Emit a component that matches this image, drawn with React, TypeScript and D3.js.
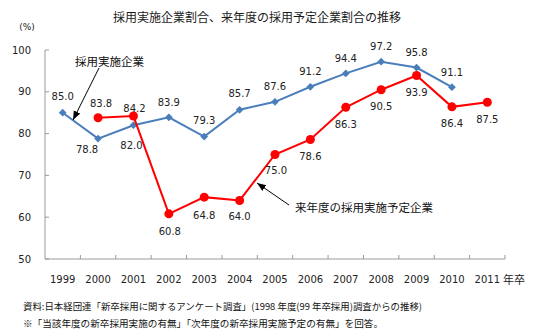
import React from 'react';
import * as d3 from 'd3';

const years = ['1999', '2000', '2001', '2002', '2003', '2004', '2005', '2006', '2007', '2008', '2009', '2010', '2011'];
// 採用実施企業 (1999–2010)
const hiringYears = ['1999', '2000', '2001', '2002', '2003', '2004', '2005', '2006', '2007', '2008', '2009', '2010'];
const hiringRate = [85.0, 78.8, 82.0, 83.9, 79.3, 85.7, 87.6, 91.2, 94.4, 97.2, 95.8, 91.1];
// 来年度の採用実施予定企業 (2000–2011)
const plannedYears = ['2000', '2001', '2002', '2003', '2004', '2005', '2006', '2007', '2008', '2009', '2010', '2011'];
const plannedRate = [83.8, 84.2, 60.8, 64.8, 64.0, 75.0, 78.6, 86.3, 90.5, 93.9, 86.4, 87.5];
const yTicks = [50, 60, 70, 80, 90, 100];

const title = '採用実施企業割合、来年度の採用予定企業割合の推移';
const hiringName = '採用実施企業';
const plannedName = '来年度の採用実施予定企業';
const unitLabel = '(%)';
const xSuffix = '年卒';
const footer1 = '資料:日本経団連「新卒採用に関するアンケート調査」(1998 年度(99 年卒採用)調査からの推移)';
const footer2 = '※「当該年度の新卒採用実施の有無」「次年度の新卒採用実施予定の有無」を回答。';

// label offsets (dx, dy from point, to text centre)
const hiringLabelOffset: [number, number][] = [
  [0, -16], [-11, 11], [-2, 20], [0, -15], [0, -16], [0, -16],
  [0, -15], [0, -15], [0, -15], [0, -15], [0, -15], [0, -15],
];
const plannedLabelOffset: [number, number][] = [
  [3, -14], [1, -8], [1, 18], [0, 18], [0, 16], [1, 16],
  [0, 17], [0, 17], [0, 17], [0, 17], [0, 17], [0, 17],
];

const W = 540;
const H = 335;
const BLUE = '#4A7EBB';
const RED = '#FF0000';
const AXIS = '#9A9A9A';
const JP = '"Noto Sans CJK JP", "Noto Sans", sans-serif';
const NUM = '"DejaVu Sans", sans-serif';

export default function App() {
  const x = d3.scaleBand<string>().domain(years).range([45, 505]).paddingInner(0).paddingOuter(0);
  const y = d3.scaleLinear().domain([50, 100]).range([259, 50]);
  const cx = (yr: string) => (x(yr) as number) + x.bandwidth() / 2;

  const hiring = hiringYears.map((yr, i) => ({ yr, v: hiringRate[i] }));
  const planned = plannedYears.map((yr, i) => ({ yr, v: plannedRate[i] }));

  const line = d3
    .line<{ yr: string; v: number }>()
    .x((d) => cx(d.yr))
    .y((d) => y(d.v));

  const diamond = d3.symbol().type(d3.symbolSquare).size(30)() as string;

  const boundaries = years.map((yr) => (x(yr) as number) + x.bandwidth());

  return (
    <svg
      width={W}
      height={H}
      viewBox={`0 0 ${W} ${H}`}
      style={{ position: 'absolute', left: 0, top: 0, background: '#fff' }}
    >
      <defs>
        <marker id="ah" viewBox="0 0 10 10" refX="10" refY="5" markerWidth="9" markerHeight="9" orient="auto" markerUnits="userSpaceOnUse">
          <path d="M0,1 L10,5 L0,9 Z" fill="#000" />
        </marker>
      </defs>
      <rect x={0} y={0} width={W} height={H} fill="#fff" />

      <text x={257} y={16} textAnchor="middle" dominantBaseline="central" fontFamily={JP} fontSize={12} fill="#1a1a1a">
        {title}
      </text>
      <text x={27} y={27} textAnchor="middle" dominantBaseline="central" fontFamily={NUM} fontSize={9} fill="#222">
        {unitLabel}
      </text>

      {/* y axis */}
      <line x1={45} x2={45} y1={y(100)} y2={y(50)} stroke={AXIS} strokeWidth={1} />
      {yTicks.map((t) => (
        <g key={t}>
          <line x1={45} x2={49} y1={y(t)} y2={y(t)} stroke={AXIS} />
          <text x={31} y={y(t)} textAnchor="end" dominantBaseline="central" fontFamily={NUM} fontSize={10} fill="#222">
            {t}
          </text>
        </g>
      ))}

      {/* x axis */}
      <line x1={45} x2={505} y1={y(50)} y2={y(50)} stroke={AXIS} strokeWidth={1} />
      {boundaries.map((bx, i) => (
        <line key={i} x1={bx} x2={bx} y1={y(50)} y2={y(50) - 4} stroke={AXIS} />
      ))}
      {years.map((yr) => (
        <text key={yr} x={cx(yr)} y={279} textAnchor="middle" dominantBaseline="central" fontFamily={NUM} fontSize={10} fill="#222">
          {yr}
        </text>
      ))}
      <text x={503} y={279} textAnchor="start" dominantBaseline="central" fontFamily={JP} fontSize={11} fill="#222">
        {xSuffix}
      </text>

      {/* hiring series */}
      <path d={line(hiring) as string} fill="none" stroke={BLUE} strokeWidth={2} />
      {hiring.map((d) => (
        <path key={d.yr} d={diamond} transform={`translate(${cx(d.yr)},${y(d.v)}) rotate(45)`} fill={BLUE} />
      ))}

      {/* planned series */}
      <path d={line(planned) as string} fill="none" stroke={RED} strokeWidth={2} />
      {planned.map((d) => (
        <circle key={d.yr} cx={cx(d.yr)} cy={y(d.v)} r={4.5} fill={RED} />
      ))}

      {/* labels */}
      {hiring.map((d, i) => (
        <text
          key={'hl' + d.yr}
          x={cx(d.yr) + hiringLabelOffset[i][0]}
          y={y(d.v) + hiringLabelOffset[i][1]}
          textAnchor="middle"
          dominantBaseline="central"
          fontFamily={NUM}
          fontSize={10}
          fill="#222"
        >
          {d.v.toFixed(1)}
        </text>
      ))}
      {planned.map((d, i) => (
        <text
          key={'pl' + d.yr}
          x={cx(d.yr) + plannedLabelOffset[i][0]}
          y={y(d.v) + plannedLabelOffset[i][1]}
          textAnchor="middle"
          dominantBaseline="central"
          fontFamily={NUM}
          fontSize={10}
          fill="#222"
        >
          {d.v.toFixed(1)}
        </text>
      ))}

      {/* annotations */}
      <text x={75} y={61} textAnchor="start" dominantBaseline="central" fontFamily={JP} fontSize={11.5} fill="#111">
        {hiringName}
      </text>
      <line x1={99} y1={68} x2={73} y2={120} stroke="#000" strokeWidth={1} markerEnd="url(#ah)" />
      <text x={295} y={207} textAnchor="start" dominantBaseline="central" fontFamily={JP} fontSize={11.5} fill="#111">
        {plannedName}
      </text>
      <line x1={289} y1={205} x2={257} y2={183} stroke="#000" strokeWidth={1} markerEnd="url(#ah)" />

      {/* footer */}
      <text x={23} y={306} dominantBaseline="central" fontFamily={JP} fontSize={9.5} fill="#111" textLength={399} lengthAdjust="spacingAndGlyphs">
        {footer1}
      </text>
      <text x={23} y={323} dominantBaseline="central" fontFamily={JP} fontSize={9.5} fill="#111" textLength={360} lengthAdjust="spacingAndGlyphs">
        {footer2}
      </text>
    </svg>
  );
}
